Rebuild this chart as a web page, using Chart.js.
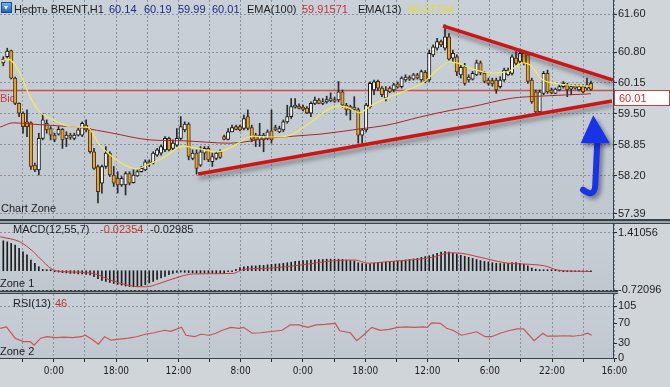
<!DOCTYPE html>
<html>
<head>
<meta charset="utf-8">
<script src="https://cdn.jsdelivr.net/npm/chart.js@4.4.1/dist/chart.umd.min.js"></script>
<style>
  html, body { margin: 0; padding: 0; }
  body { width: 670px; height: 387px; background: #d0d5da; position: relative; overflow: hidden;
         font-family: 'Liberation Sans', Arial, sans-serif; font-size: 11px; color: #1e1e1e; }
  canvas { position: absolute; left: 0; }
  .sep { position: absolute; left: 0; width: 670px; background: #99a1a9; box-sizing: border-box;
         border-top: 2px solid #3a4148; border-bottom: 1px solid #3a4148; }
  .lbl { position: absolute; white-space: nowrap; line-height: 12px; z-index: 5; }
  .icon { position: absolute; left: 1px; top: 2px; width: 11px; height: 11px; z-index: 5; box-sizing: border-box;
          background: linear-gradient(#6fb0f0, #1d62c0); border: 1px solid #1b4a8a; }
  .icon:after { content: ''; position: absolute; left: 2px; top: 3px; border-left: 2.5px solid transparent;
                border-right: 2.5px solid transparent; border-top: 4px solid #fff; }
</style>
</head>
<body>
<div class="sep" style="top:219px;height:5px"></div>
<div class="sep" style="top:290px;height:4px"></div>
<canvas id="main" width="670" height="222" style="top:0"></canvas>
<canvas id="macd" width="670" height="74" style="top:224px"></canvas>
<canvas id="rsi" width="670" height="93" style="top:294px"></canvas>

<div class="icon"></div>
<div class="lbl" style="left:14px;top:3px">Нефть BRENT,H1</div>
<div class="lbl" style="left:109px;top:3px;color:#1f2a80">60.14</div>
<div class="lbl" style="left:144px;top:3px;color:#1f2a80">60.19</div>
<div class="lbl" style="left:178px;top:3px;color:#1f2a80">59.99</div>
<div class="lbl" style="left:212px;top:3px;color:#1f2a80">60.01</div>
<div class="lbl" style="left:247px;top:3px">EMA(100)</div>
<div class="lbl" style="left:302px;top:3px;color:#c23434">59.91571</div>
<div class="lbl" style="left:358px;top:3px">EMA(13)</div>
<div class="lbl" style="left:408px;top:3px;color:#e6dc2e">60.07704</div>
<div class="lbl" style="left:1px;top:202px">Chart Zone</div>
<div class="lbl" style="left:13px;top:223px">MACD(12,55,7)</div>
<div class="lbl" style="left:100px;top:223px;color:#c23434">-0.02354</div>
<div class="lbl" style="left:150px;top:223px">-0.02985</div>
<div class="lbl" style="left:0;top:277px">Zone 1</div>
<div class="lbl" style="left:13px;top:297px">RSI(13)</div>
<div class="lbl" style="left:55px;top:297px;color:#c23434">46</div>
<div class="lbl" style="left:0;top:345px">Zone 2</div>

<script>
// Brent H1 candles, index 0..149 (oldest first)
var opens = [60.57,60.70,60.83,60.25,59.72,59.51,59.33,59.31,58.42,58.32,
  58.98,59.30,59.19,59.05,59.07,59.17,58.98,59.05,58.98,59.05,
  59.05,59.26,59.16,58.70,58.39,58.04,58.39,58.67,58.21,58.14,
  58.00,58.00,58.24,58.05,58.19,58.28,58.32,58.49,58.46,58.63,
  58.67,58.74,58.98,58.77,58.84,58.98,59.16,59.28,58.56,58.67,
  58.42,58.67,58.77,58.49,58.56,58.70,59.02,58.96,59.12,59.23,
  59.23,59.19,59.44,59.21,59.05,58.96,58.95,58.98,59.14,59.21,
  59.12,59.16,59.33,59.44,59.64,59.66,59.64,59.62,59.51,59.72,
  59.79,59.72,59.75,59.77,59.80,59.79,59.96,59.68,59.65,59.59,
  59.59,59.05,59.16,59.65,60.00,60.18,60.04,59.83,60.04,60.00,
  60.13,60.07,60.21,60.27,60.23,60.32,60.21,60.37,60.21,60.74,
  60.88,61.02,60.88,61.12,60.67,60.70,60.32,60.49,60.21,60.23,
  60.32,60.57,60.35,60.21,60.20,60.21,60.07,60.21,60.32,60.35,
  60.67,60.60,60.77,60.74,60.21,59.96,59.54,59.93,60.35,60.00,
  59.93,60.00,60.07,60.11,60.02,60.09,60.00,60.07,60.04,60.14];
var highs = [60.70,60.88,60.84,60.27,59.73,59.54,59.58,59.33,58.46,59.09,
  59.51,59.37,59.23,59.09,59.23,59.19,59.12,59.09,59.09,59.20,
  59.33,59.37,59.19,58.77,58.42,58.42,58.81,58.70,58.39,58.28,
  58.18,58.28,58.28,58.32,58.32,58.39,58.53,58.53,58.70,58.77,
  58.84,59.02,59.01,58.95,59.19,59.44,59.33,59.31,58.74,58.74,
  58.81,58.81,58.81,58.67,58.70,58.74,59.05,59.19,59.26,59.26,
  59.26,59.47,59.58,59.26,59.09,59.30,59.09,59.16,59.58,59.26,
  59.24,59.37,59.68,59.82,59.82,59.71,59.68,59.65,59.75,59.85,
  59.82,59.82,59.87,59.94,59.85,60.18,60.00,59.72,59.68,59.86,
  59.62,59.19,59.72,60.17,60.21,60.21,60.07,60.07,60.07,60.14,
  60.17,60.28,60.32,60.30,60.35,60.35,60.42,60.41,60.84,60.95,
  61.09,61.05,61.37,61.19,60.84,60.74,60.53,60.56,60.32,60.39,
  60.63,60.61,60.39,60.25,60.25,60.25,60.28,60.46,60.46,60.74,
  60.81,60.81,60.81,60.77,60.25,60.00,60.00,60.39,60.42,60.04,
  60.04,60.11,60.18,60.14,60.11,60.11,60.11,60.11,60.25,60.19];
var lows = [60.51,60.67,60.23,59.69,59.44,59.09,59.02,58.33,58.28,58.21,
  58.95,59.09,58.95,58.91,59.05,58.77,58.81,58.96,58.95,59.03,
  59.02,59.12,58.67,58.33,57.62,57.83,58.35,58.18,57.97,57.83,
  57.97,57.79,58.00,58.04,58.18,58.27,58.30,58.39,58.44,58.60,
  58.63,58.70,58.72,58.74,58.81,58.95,59.12,58.53,58.53,58.23,
  58.39,58.53,58.49,58.39,58.53,58.56,58.95,58.95,59.12,59.16,
  59.14,59.16,59.16,58.91,58.81,58.81,58.70,58.95,58.88,59.14,
  59.10,59.12,59.30,59.40,59.62,59.60,59.56,59.50,59.44,59.69,
  59.71,59.69,59.72,59.75,59.74,59.75,59.64,59.47,59.37,59.56,
  58.88,58.88,59.12,59.62,59.90,59.99,59.86,59.77,59.94,59.96,
  60.04,60.04,60.18,60.20,60.21,60.23,60.18,60.15,60.18,60.70,
  60.84,60.91,60.84,60.63,60.60,60.30,60.25,60.10,60.17,60.21,
  60.30,60.32,60.15,60.10,60.08,59.93,60.04,60.18,60.30,60.32,
  60.53,60.56,60.53,60.14,59.72,59.51,59.51,59.90,59.93,59.92,
  59.92,59.98,60.04,59.86,59.90,60.02,59.98,59.94,60.00,59.99];
var closes = [60.65,60.82,60.25,59.72,59.51,59.23,59.23,58.39,58.32,58.98,
  59.37,59.16,59.05,58.95,59.17,58.95,59.05,59.00,59.05,59.16,
  59.30,59.16,58.70,58.35,57.86,58.39,58.67,58.21,58.04,58.00,
  58.14,58.24,58.04,58.21,58.28,58.35,58.49,58.44,58.67,58.74,
  58.81,58.98,58.74,58.88,58.98,59.23,59.28,58.60,58.67,58.35,
  58.70,58.77,58.53,58.60,58.67,58.58,58.96,59.12,59.21,59.17,
  59.16,59.40,59.19,58.96,58.95,59.05,59.05,59.12,58.95,59.16,
  59.19,59.33,59.44,59.65,59.68,59.61,59.59,59.52,59.72,59.79,
  59.72,59.75,59.80,59.82,59.76,59.96,59.68,59.58,59.58,59.64,
  59.05,59.16,59.68,60.14,60.17,60.04,59.90,60.00,59.96,60.11,
  60.06,60.25,60.27,60.23,60.32,60.25,60.39,60.18,60.77,60.91,
  61.02,60.95,61.12,60.65,60.77,60.38,60.48,60.14,60.27,60.35,
  60.57,60.36,60.18,60.14,60.13,60.00,60.21,60.42,60.42,60.70,
  60.56,60.77,60.56,60.18,59.75,59.54,59.96,60.35,59.96,59.94,
  60.02,60.07,60.14,60.00,60.07,60.04,60.07,59.96,60.11,60.01];

// EMA(13) and EMA(100), read at candle index positions
var emaFastIdx = [-0.8,1.2,4.2,6.8,9.3,12.6,17.7,21.2,24.5,29.6,33.9,36.4,40.5,45.6,49.9,54.2,57.5,63.3,67.6,71.9,
  77.8,84.6,87.1,90.4,93,97.3,102.4,106.4,110,113.3,115,119.1,123.4,127.7,131.8,133.5,136.8,139.4,143.7,149];
var emaFastVal = [60.60,60.65,60.36,59.85,59.54,59.37,59.22,59.22,58.84,58.48,58.34,58.42,58.57,58.82,58.76,58.70,58.78,59.03,59.01,59.03,
  59.31,59.66,59.64,59.52,59.66,59.83,60.00,60.15,60.42,60.59,60.57,60.44,60.36,60.38,60.57,60.53,60.21,60.15,60.10,60.08];
var emaSlowIdx = [-0.8,2.5,7.5,20.2,27.1,37.2,45.6,57.5,67.6,80.3,90.4,97.3,105.6,113.3,118.3,129.2,136.1,149];
var emaSlowVal = [59.22,59.31,59.28,59.20,59.10,58.95,58.93,58.88,58.99,59.07,59.18,59.26,59.43,59.57,59.64,59.83,59.87,59.92];

// triangle trend lines
var trendHiIdx = [111.5, 154.6], trendHiVal = [61.35, 60.21];
var trendLoIdx = [49.4, 154.3], trendLoVal = [58.23, 59.77];
var bidPrice = 60.01;

// MACD(12,55,7): histogram per candle and signal line
var macdHist = [1.12,1.08,1.02,0.96,0.84,0.71,0.59,0.40,0.28,0.15,
  0.05,0.02,0.01,-0.02,-0.05,-0.07,-0.08,-0.10,-0.10,-0.12,
  -0.12,-0.14,-0.16,-0.22,-0.30,-0.36,-0.40,-0.44,-0.48,-0.51,
  -0.54,-0.57,-0.59,-0.60,-0.60,-0.57,-0.52,-0.46,-0.40,-0.33,
  -0.27,-0.21,-0.15,-0.10,-0.06,-0.05,-0.06,-0.07,-0.08,-0.09,
  -0.09,-0.08,-0.08,-0.09,-0.10,-0.09,-0.07,-0.04,-0.01,0.05,
  0.12,0.15,0.16,0.18,0.18,0.20,0.20,0.22,0.24,0.25,
  0.26,0.28,0.30,0.32,0.35,0.36,0.38,0.38,0.40,0.40,
  0.42,0.42,0.43,0.43,0.43,0.43,0.42,0.40,0.38,0.36,
  0.30,0.27,0.25,0.26,0.28,0.30,0.31,0.32,0.34,0.35,
  0.36,0.38,0.40,0.42,0.44,0.46,0.50,0.53,0.56,0.60,
  0.65,0.70,0.72,0.70,0.66,0.62,0.58,0.54,0.50,0.46,
  0.42,0.38,0.35,0.33,0.30,0.28,0.27,0.27,0.28,0.30,
  0.30,0.28,0.24,0.18,0.10,0.06,0.04,0.03,0.02,0.02,
  0.01,0.00,-0.01,-0.02,-0.02,-0.03,-0.02,-0.02,-0.03,-0.02];
var sigIdx = [-0.8,4.2,7.6,10.1,12.7,16.1,22.8,27.1,31.3,34.7,36.3,39.7,44.8,48.2,58.3,60.9,66.8,75.2,83.7,89.2,
  92.5,96.8,105.2,109.5,112.9,116.2,122.1,128,132.2,137.3,140.7,143.3,148.8];
var sigVal = [1.27,1.08,0.71,0.34,0.03,-0.04,-0.10,-0.35,-0.53,-0.60,-0.60,-0.47,-0.22,-0.12,-0.10,0.05,0.09,0.21,0.37,0.40,
  0.28,0.33,0.43,0.52,0.67,0.65,0.46,0.28,0.25,0.18,0.02,-0.01,-0.03];

// RSI(13)
var rsiIdx = [-0.8,0.8,3.0,5.1,6.8,7.8,9.5,11.1,13.3,15.4,17.6,19.8,20.8,22.5,24.1,25.7,27.3,29.5,31.7,33.8,
  36.0,38.2,40.9,42.5,45.2,46.3,48.5,50.1,52.3,53.9,55.5,57.7,59.8,60.9,63.1,65.3,68.5,70.7,72.8,75.0,
  77.2,79.3,81.5,84.2,85.3,88.0,89.6,91.3,93.4,95.6,97.8,100.0,102.1,104.3,106.4,107.5,108.6,110.8,112.4,114.0,
  116.2,118.4,120.0,122.2,123.8,126.0,128.1,130.3,131.9,134.6,136.8,137.9,140.0,142.2,144.4,146.5,148.2,149.2];
var rsiVal = [60,63,40,33,33,26,40,43,41,42,41,43,46,38,28,43,36,38,40,43,
  48,51,56,54,62,46,43,48,46,50,56,62,60,62,50,51,54,56,67,67,
  62,67,68,70,55,51,35,46,62,56,58,62,63,62,63,62,71,70,60,56,
  46,50,53,43,43,50,55,59,59,35,50,44,44,45,44,46,50,46];

// axis labels
var timeLabels = ["0:00","18:00","12:00","8:00","0:00","18:00","12:00","6:00","22:00","16:00"];
var priceTicks = [61.60, 60.80, 60.15, 59.50, 58.85, 58.20, 57.39];
var macdTicks = [1.41056, -0.72096];
var rsiTicks = [105, 70, 30, 0];

var xMin = -0.84, xMax = 154.6;
var gridIdx = [];
for (var k = 0; k < 20; k++) gridIdx.push(4.92 + 7.896 * k);

var gridCol = '#8893a0';
var fontFam = "'Liberation Sans', Arial, sans-serif";
Chart.defaults.font.family = fontFam;
Chart.defaults.font.size = 11;

function pts(xs, ys) { return xs.map(function (x, i) { return { x: x, y: ys[i] }; }); }

function timeAxis(showLabels) {
  return {
    type: 'linear', min: xMin, max: xMax, offset: false, bounds: 'data',
    afterBuildTicks: function (s) { s.ticks = gridIdx.map(function (v) { return { value: v }; }); },
    afterFit: function (s) { s.height = showLabels ? 29 : 0; s.paddingLeft = 0; s.paddingRight = 0; },
    ticks: {
      display: showLabels, autoSkip: false, maxRotation: 0, padding: 3, color: '#1e1e1e',
      font: { size: 10, family: "'DejaVu Sans Condensed', 'Liberation Sans Narrow', 'Liberation Sans', sans-serif" },
      callback: function (v, i) { return i % 2 === 1 ? timeLabels[(i - 1) / 2] : ''; }
    },
    grid: { color: gridCol, offset: false, drawTicks: showLabels, tickLength: 4, tickColor: '#2a2a2a' },
    border: { display: showLabels, color: '#3a4148', dash: [2, 2] }
  };
}

function valueAxis(min, max, tickVals, fmt, gridColor) {
  return {
    type: 'linear', position: 'right', min: min, max: max, bounds: 'data', beginAtZero: false,
    afterBuildTicks: function (s) { s.ticks = tickVals.map(function (v) { return { value: v }; }); },
    afterFit: function (s) { s.width = 57; s.paddingTop = 0; s.paddingBottom = 0; },
    ticks: { autoSkip: false, padding: 1, color: '#1e1e1e', font: { size: 11 }, callback: fmt },
    grid: { color: gridColor || gridCol, drawTicks: true, tickLength: 4, tickColor: '#2a2a2a' },
    border: { display: true, color: '#3a4148', dash: [2, 2] }
  };
}

var plotBg = {
  id: 'plotBg',
  beforeDraw: function (chart) {
    var a = chart.chartArea, ctx = chart.ctx;
    ctx.save();
    var g = ctx.createLinearGradient(0, a.top, 0, a.bottom);
    g.addColorStop(0, '#c9d0d7');
    g.addColorStop(1, '#c0c7cf');
    ctx.fillStyle = g;
    ctx.fillRect(a.left, a.top, a.right - a.left, a.bottom - a.top);
    ctx.restore();
  }
};

// light patch behind the lowest MACD label so the separator does not cut it
var macdLabelPatch = {
  id: 'macdLabelPatch',
  beforeDraw: function (chart) {
    var a = chart.chartArea, ctx = chart.ctx;
    ctx.save();
    ctx.fillStyle = '#d0d5da';
    ctx.fillRect(a.right + 5, a.bottom - 3, chart.width - a.right - 5, 10);
    ctx.restore();
  }
};

var shadowLines = {
  id: 'shadowLines',
  beforeDatasetDraw: function (chart, args) {
    if (!chart.data.datasets[args.index].shadow) return;
    var ctx = chart.ctx;
    ctx.save();
    ctx.shadowColor = 'rgba(40,40,50,0.45)';
    ctx.shadowBlur = 4;
    ctx.shadowOffsetX = 1;
    ctx.shadowOffsetY = 4;
  },
  afterDatasetDraw: function (chart, args) {
    if (chart.data.datasets[args.index].shadow) chart.ctx.restore();
  }
};

var bidLine = {
  id: 'bidLine',
  beforeDatasetsDraw: function (chart) {
    var ctx = chart.ctx, a = chart.chartArea, y = chart.scales.y;
    var py = Math.round(y.getPixelForValue(bidPrice)) + 0.5;
    ctx.save();
    ctx.strokeStyle = '#c65252';
    ctx.lineWidth = 1.4;
    ctx.beginPath(); ctx.moveTo(a.left, py); ctx.lineTo(a.right, py); ctx.stroke();
    ctx.fillStyle = '#c43c3c';
    ctx.font = '11px ' + fontFam;
    ctx.textBaseline = 'middle';
    ctx.fillText('Bid', 0, py + 8);
    ctx.restore();
  },
  afterDraw: function (chart) {
    var ctx = chart.ctx, a = chart.chartArea, y = chart.scales.y;
    var py = Math.round(y.getPixelForValue(bidPrice));
    ctx.save();
    ctx.fillStyle = '#ffffff';
    ctx.fillRect(a.right + 1, py, 56, 16);
    ctx.strokeStyle = '#c84040';
    ctx.lineWidth = 1;
    ctx.strokeRect(a.right + 1.5, py + 0.5, 55, 15);
    ctx.fillStyle = '#c83232';
    ctx.font = '11px ' + fontFam;
    ctx.textBaseline = 'middle';
    ctx.fillText(bidPrice.toFixed(2), a.right + 6, py + 8.5);
    ctx.restore();
  }
};

// blue hand-drawn arrow, in (candle index, price) units
var arrowShape = { tip: [149.6, 59.47], left: [146.4, 58.88], right: [153.8, 58.88],
  top: [150.6, 58.90], bottom: [150.1, 57.99], bend: [149.9, 57.72], end: [147.0, 57.90] };

var arrow = {
  id: 'arrow',
  afterDatasetsDraw: function (chart) {
    var ctx = chart.ctx, sx = chart.scales.x, sy = chart.scales.y;
    function P(p) { return [sx.getPixelForValue(p[0]), sy.getPixelForValue(p[1])]; }
    var t = P(arrowShape.top), b = P(arrowShape.bottom), c = P(arrowShape.bend), e = P(arrowShape.end);
    var tip = P(arrowShape.tip), l = P(arrowShape.left), r = P(arrowShape.right);
    ctx.save();
    ctx.shadowColor = 'rgba(20,20,40,0.45)';
    ctx.shadowBlur = 4;
    ctx.shadowOffsetX = 3;
    ctx.shadowOffsetY = 3;
    ctx.strokeStyle = '#1933e8';
    ctx.fillStyle = '#1933e8';
    ctx.lineWidth = 6;
    ctx.lineCap = 'round';
    ctx.lineJoin = 'round';
    ctx.beginPath();
    ctx.moveTo(t[0], t[1]);
    ctx.lineTo(b[0], b[1]);
    ctx.quadraticCurveTo(c[0], c[1], e[0], e[1]);
    ctx.stroke();
    ctx.beginPath();
    ctx.moveTo(l[0], l[1]);
    ctx.lineTo(tip[0], tip[1]);
    ctx.lineTo(r[0], r[1]);
    ctx.closePath();
    ctx.fill();
    ctx.restore();
  }
};

var baseOpts = {
  responsive: false, animation: false, events: [],
  layout: { padding: 0 },
  plugins: { legend: { display: false }, tooltip: { enabled: false } }
};
function opts(extra) { return Object.assign({}, baseOpts, extra); }

var isUp = function (i) { return closes[i] >= opens[i]; };
var bodies = opens.map(function (o, i) { return { x: i, y: [o, closes[i]] }; });
var wicks = lows.map(function (lo, i) { return { x: i, y: [lo, highs[i]] }; });

new Chart(document.getElementById('main'), {
  type: 'bar',
  data: {
    datasets: [
      { type: 'line', data: pts(trendHiIdx, trendHiVal), borderColor: '#cc1616', borderWidth: 3.6, pointRadius: 0, shadow: true, order: 0 },
      { type: 'line', data: pts(trendLoIdx, trendLoVal), borderColor: '#cc1616', borderWidth: 3.6, pointRadius: 0, shadow: true, order: 0 },
      { type: 'line', data: pts(emaFastIdx, emaFastVal), borderColor: '#f2ec55', borderWidth: 1.2, pointRadius: 0, cubicInterpolationMode: 'monotone', order: 1 },
      { type: 'line', data: pts(emaSlowIdx, emaSlowVal), borderColor: '#a42a2a', borderWidth: 1, pointRadius: 0, cubicInterpolationMode: 'monotone', order: 1 },
      { type: 'bar', data: bodies, grouped: false, barThickness: 3.4, minBarLength: 1, borderWidth: 1, borderSkipped: false,
        backgroundColor: function (c) { return isUp(c.dataIndex) ? '#f6f6f6' : '#eea42a'; },
        borderColor: function (c) { return isUp(c.dataIndex) ? '#1a1a1a' : '#4a3414'; }, order: 2 },
      { type: 'bar', data: wicks, grouped: false, barThickness: 1, backgroundColor: '#2a2a2a', borderWidth: 0, order: 3 }
    ]
  },
  options: opts({
    layout: { padding: { bottom: 3 } },
    scales: {
      x: timeAxis(false),
      y: valueAxis(57.284, 61.895, priceTicks, function (v) { return v.toFixed(2); })
    }
  }),
  plugins: [plotBg, bidLine, shadowLines, arrow]
});

new Chart(document.getElementById('macd'), {
  type: 'bar',
  data: {
    datasets: [
      { type: 'line', data: pts(sigIdx, sigVal), borderColor: '#c83c3c', borderWidth: 1, pointRadius: 0, cubicInterpolationMode: 'monotone', order: 0 },
      { type: 'bar', data: macdHist.map(function (v, i) { return { x: i, y: v }; }), grouped: false, barThickness: 1,
        minBarLength: 1, backgroundColor: '#1c1c1c', borderWidth: 0, order: 1 }
    ]
  },
  options: opts({
    layout: { padding: { bottom: 8 } },
    scales: {
      x: timeAxis(false),
      y: valueAxis(-0.72096, 1.747, macdTicks, function (v) { return v.toFixed(5); })
    }
  }),
  plugins: [plotBg, macdLabelPatch]
});

new Chart(document.getElementById('rsi'), {
  type: 'line',
  data: {
    datasets: [
      { data: pts(rsiIdx, rsiVal), borderColor: '#c85656', borderWidth: 1.2, pointRadius: 0, tension: 0 }
    ]
  },
  options: opts({
    scales: {
      x: timeAxis(true),
      y: valueAxis(0, 129.3, rsiTicks, function (v) { return String(v); },
        function (c) { return c.tick && c.tick.value === 105 ? gridCol : 'rgba(0,0,0,0)'; })
    }
  }),
  plugins: [plotBg]
});
</script>
</body>
</html>
